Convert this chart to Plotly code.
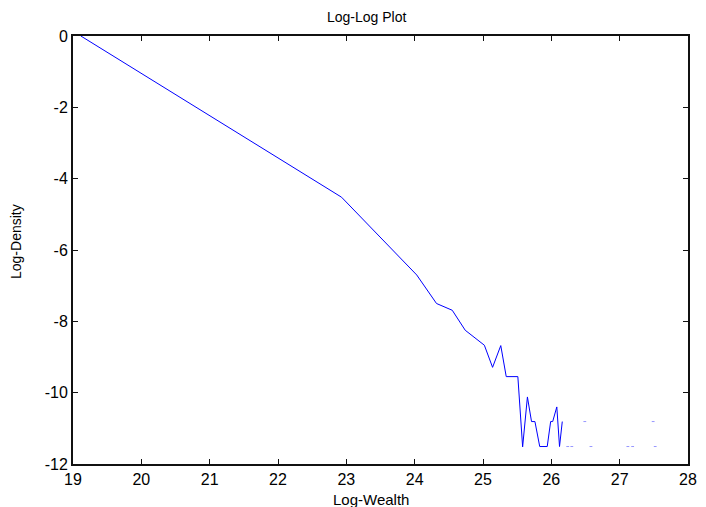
import plotly.graph_objects as go

# Main connected curve (log-wealth vs log-density)
line_x = [19.115, 22.93, 24.03, 24.32, 24.55, 24.74, 25.02, 25.14, 25.26, 25.34, 25.51,
          25.58, 25.65, 25.71, 25.76, 25.83, 25.94, 25.99, 26.02, 26.08, 26.12, 26.16]
line_y = [0.0, -4.52, -6.70, -7.50, -7.69, -8.25, -8.67, -9.29, -8.68, -9.55, -9.55,
          -11.52, -10.12, -10.81, -10.81, -11.51, -11.51, -10.81, -10.81, -10.40, -11.51, -10.81]

# Isolated points in the sparse tail
dot_x = [26.24, 26.30, 26.49, 26.58, 27.12, 27.19, 27.49, 27.52]
dot_y = [-11.51, -11.51, -10.81, -11.51, -11.51, -11.51, -10.81, -11.51]

x_ticks = [19, 20, 21, 22, 23, 24, 25, 26, 27, 28]
y_ticks = [0, -2, -4, -6, -8, -10, -12]

FONT = "Liberation Sans, Arial, sans-serif"

fig = go.Figure()
fig.add_trace(go.Scatter(x=line_x, y=line_y, mode="lines",
                         line=dict(color="#0000ff", width=1), showlegend=False))
fig.add_trace(go.Scatter(x=dot_x, y=dot_y, mode="markers",
                         marker=dict(symbol="line-ew", size=2,
                                     line=dict(color="rgba(80,80,255,0.6)", width=1)),
                         showlegend=False))

axis_common = dict(showline=True, linecolor="#111", linewidth=2, mirror="ticks",
                   ticks="inside", ticklen=5, tickwidth=1, tickcolor="#111",
                   showgrid=False, zeroline=False,
                   tickfont=dict(family=FONT, size=16, color="black"))

fig.update_xaxes(range=[19, 28], tickvals=x_ticks, ticktext=[str(v) for v in x_ticks], **axis_common)
fig.update_yaxes(range=[-12, 0], tickvals=y_ticks, ticktext=[str(v) for v in y_ticks], **axis_common)

fig.update_layout(
    width=706, height=507,
    margin=dict(l=73, r=9, t=36, b=43),
    paper_bgcolor="white", plot_bgcolor="white",
    font=dict(family=FONT, color="black"),
    annotations=[
        dict(text="Log-Log Plot", xref="paper", yref="paper", x=(371 - 73) / 624, y=1,
             yanchor="bottom", yshift=9, showarrow=False, font=dict(size=14)),
        dict(text="Log-Wealth", xref="paper", yref="paper", x=(375.5 - 73) / 624, y=0,
             yanchor="top", yshift=-25, showarrow=False, font=dict(size=15)),
        dict(text="Log-Density", xref="paper", yref="paper", x=0, xanchor="center",
             xshift=-57, y=(464 - 242) / 428, yanchor="middle", textangle=-90,
             showarrow=False, font=dict(size=14)),
    ],
)

fig.write_html("out.html")
